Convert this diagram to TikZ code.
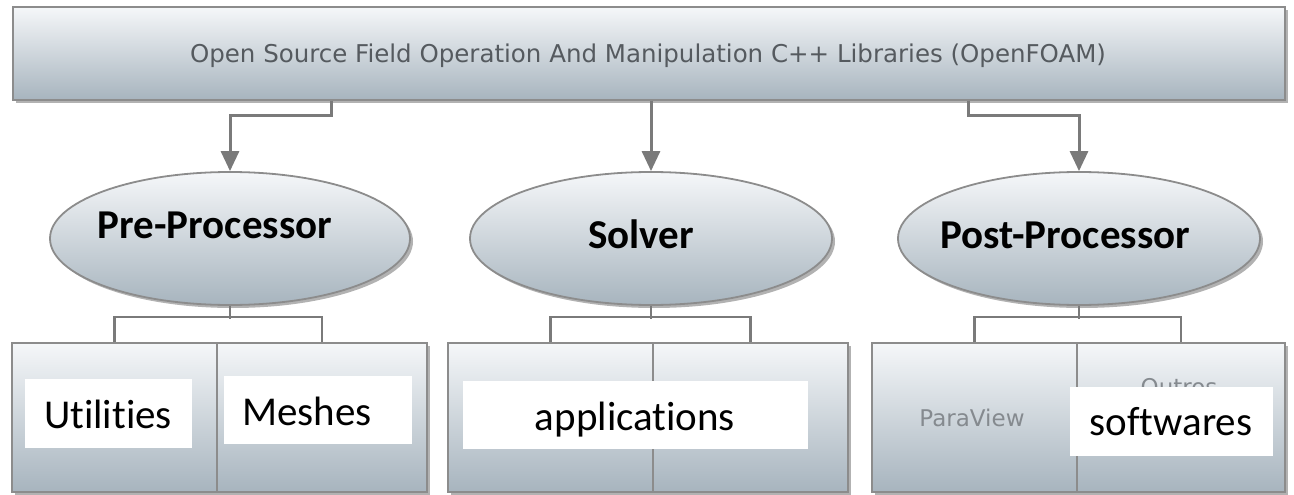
\documentclass[tikz,border=0pt]{standalone}
\usepackage{fontspec}
\setmainfont{Carlito}[Ligatures=NoCommon]
\newfontfamily\verd{DejaVu Sans}
\usetikzlibrary{arrows.meta,shadows,shapes.geometric}
\definecolor{edgec}{HTML}{8C8C8C}
\definecolor{gtop}{HTML}{F5F7F9}
\definecolor{gmid}{HTML}{DCE2E6}
\definecolor{gbot}{HTML}{A7B4BE}
\definecolor{linec}{HTML}{7A7A7A}
\definecolor{ghostc}{HTML}{555A5F}
\definecolor{parac}{HTML}{858A8F}
\begin{document}
\begin{tikzpicture}[x=1pt,y=-1pt,
  panel/.style={draw=edgec, line width=1.8pt, top color=gtop, middle color=gmid, bottom color=gbot,
    inner sep=0pt, drop shadow={shadow xshift=3pt, shadow yshift=-3pt, opacity=0.3, fill=black}},
  boxpanel/.style={panel, rectangle, minimum height=149pt},
  ellpanel/.style={panel, ellipse, minimum height=133pt},
  arr/.style={draw=linec, line width=3pt, -{Triangle[length=20pt,width=18pt]}},
  conn/.style={draw=linec, line width=2.5pt},
  toptext/.style={font=\verd\fontsize{24.5}{26}\selectfont, text=ghostc, anchor=base, inner sep=0pt},
  boldlabel/.style={font=\fontsize{41}{44}\selectfont\bfseries, text=black, anchor=base, inner sep=0pt},
  whitebox/.style={fill=white, draw=none, inner sep=0pt},
  plainlabel/.style={font=\fontsize{41}{44}\selectfont, text=black, anchor=base, inner sep=0pt},
  graylabel/.style={font=\verd\fontsize{23}{25}\selectfont, text=parac, anchor=base, inner sep=0pt}
]
\useasboundingbox (0,0) rectangle (1294,495);

% top box
\node[panel, rectangle, minimum width=1272pt, minimum height=93pt] (top) at (649,53.5) {};
\node[toptext] (toplabel) at (648,63) {Open Source Field Operation And Manipulation C++ Libraries (OpenFOAM)};

% ellipses
\node[ellpanel, minimum width=360pt] (pre) at (230,238.5) {};
\node[ellpanel, minimum width=362pt] (solver) at (651,238.5) {};
\node[ellpanel, minimum width=362pt] (post) at (1079,238.5) {};
\node[boldlabel] (prel) at (215,238) {Pre-Processor};
\node[boldlabel] (solverl) at (641,248) {Solver};
\node[boldlabel] (postl) at (1065,248) {Post-Processor};

% arrows from top box
\draw[arr] ([xshift=319pt]top.south west) -- ++(0,15) -| (pre.north);
\draw[arr] (solver.north |- top.south) -- (solver.north);
\draw[arr] ([xshift=956pt]top.south west) -- ++(0,15) -| (post.north);

% bottom boxes
\node[boxpanel, minimum width=205pt] (b1) at (114.5,417.5) {};
\node[boxpanel, minimum width=210pt] (b2) at (322,417.5) {};
\node[boxpanel, minimum width=205pt] (b3) at (550.5,417.5) {};
\node[boxpanel, minimum width=195pt] (b4) at (750.5,417.5) {};
\node[boxpanel, minimum width=205pt] (b5) at (974.5,417.5) {};
\node[boxpanel, minimum width=208pt] (b6) at (1181,417.5) {};

% connectors ellipse -> boxes
\draw[conn] (pre.south) -- ++(0,13);
\draw[conn] (b1.north) -- ++(0,-25) -| (b2.north);
\draw[conn] (solver.south) -- ++(0,13);
\draw[conn] (b3.north) -- ++(0,-25) -| (b4.north);
\draw[conn] (post.south) -- ++(0,13);
\draw[conn] (b5.north) -- ++(0,-25) -| (b6.north);

% box texts
\node[graylabel] (parav) at (972,426) {ParaView};
\node[graylabel] (outros) at (1179,395) {Outros};

\node[whitebox, minimum width=167pt, minimum height=69pt] (w1) at (108.5,413.5) {};
\node[plainlabel] (utl) at (108,428) {Utilities};
\node[whitebox, minimum width=188pt, minimum height=68pt] (w2) at (318,410) {};
\node[plainlabel] (mesl) at (307,425) {Meshes};
\node[whitebox, minimum width=345pt, minimum height=68pt] (w3) at (635.5,415) {};
\node[plainlabel] (appl) at (635,430) {applications};
\node[whitebox, minimum width=203pt, minimum height=69pt] (w4) at (1171.5,421.5) {};
\node[plainlabel] (softl) at (1171,435) {softwares};
\end{tikzpicture}
\end{document}
